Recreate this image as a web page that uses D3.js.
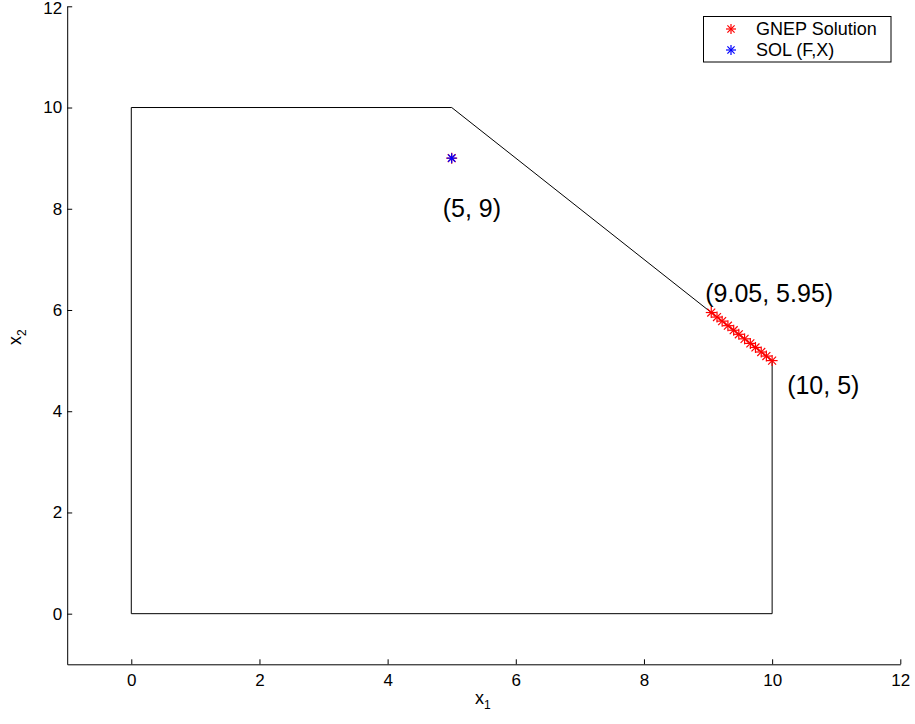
<!DOCTYPE html>
<html>
<head>
<meta charset="utf-8">
<script src="https://cdn.jsdelivr.net/npm/d3@7"></script>
<style>
  body { margin: 0; background: #fff; }
  text { font-family: "Liberation Sans", Arial, sans-serif; }
</style>
</head>
<body>
<div id="chart"></div>
<script>
// data
var regionX = [0, 0, 5, 10, 10, 0];
var regionY = [0, 10, 10, 5, 0, 0];
var gnepX = [9.05, 9.14, 9.22, 9.31, 9.40, 9.48, 9.57, 9.66, 9.74, 9.83, 9.91, 10.0];
var gnepY = [5.95, 5.86, 5.78, 5.69, 5.60, 5.52, 5.43, 5.34, 5.26, 5.17, 5.09, 5.0];
var solX = [5];
var solY = [9];
var gnepFixed = [[5, 9]];
var xTicks = [0, 2, 4, 6, 8, 10, 12];
var yTicks = [0, 2, 4, 6, 8, 10, 12];
var notes = [
  { label: "(5, 9)", x: 5, y: 9, dx: -9, dy: 59 },
  { label: "(9.05, 5.95)", x: 9.05, y: 5.95, dx: -6, dy: -10.5 },
  { label: "(10, 5)", x: 10, y: 5, dx: 15, dy: 33 }
];

var W = 915, H = 724;
var svg = d3.select("#chart").append("svg").attr("width", W).attr("height", H);

var x = d3.scaleLinear().domain([-1, 12]).range([67.2, 900.3]);
var y = d3.scaleLinear().domain([-1, 12]).range([664.3, 6.3]);

// axes, ticks pointing inward
var xAxis = d3.axisBottom(x).tickValues(xTicks).tickSizeInner(-5).tickSizeOuter(0).tickPadding(10);
var yAxis = d3.axisLeft(y).tickValues(yTicks).tickSizeInner(-5).tickSizeOuter(0).tickPadding(5);

var gx = svg.append("g").attr("transform", "translate(0," + y(-1) + ")").call(xAxis);
var gy = svg.append("g").attr("transform", "translate(" + x(-1) + ",0)").call(yAxis);
[gx, gy].forEach(function(g) {
  g.selectAll("path, line").attr("stroke", "#000").attr("stroke-width", 1);
  g.selectAll("text").attr("font-size", 17).attr("fill", "#000")
    .attr("font-family", "Liberation Sans, Arial, sans-serif");
});
// keep the top "12" inside the page
gy.selectAll(".tick text").filter(function(d) { return d === 12; }).attr("dy", "0.4em");

// feasible region
var line = d3.line().x(function(d) { return x(d[0]); }).y(function(d) { return y(d[1]); });
svg.append("path")
  .datum(regionX.map(function(v, i) { return [v, regionY[i]]; }))
  .attr("d", line).attr("fill", "none").attr("stroke", "#000").attr("stroke-width", 1);

// star marker (MATLAB '*')
function star(g, cx, cy, color, r) {
  var s = g.append("g").attr("transform", "translate(" + cx + "," + cy + ")")
    .attr("stroke", color).attr("stroke-width", 1.2);
  s.append("line").attr("x1", -r).attr("x2", r).attr("y1", 0).attr("y2", 0);
  s.append("line").attr("x1", 0).attr("x2", 0).attr("y1", -r).attr("y2", r);
  var d = r * 0.72;
  s.append("line").attr("x1", -d).attr("x2", d).attr("y1", -d).attr("y2", d);
  s.append("line").attr("x1", -d).attr("x2", d).attr("y1", d).attr("y2", -d);
}

var marks = svg.append("g");
gnepFixed.forEach(function(p) { star(marks, x(p[0]), y(p[1]), "#ff0000", 5.5); });
gnepX.forEach(function(v, i) { star(marks, x(v), y(gnepY[i]), "#ff0000", 5.5); });
solX.forEach(function(v, i) { star(marks, x(v), y(solY[i]), "#0000ff", 5); });

// annotations
notes.forEach(function(n) {
  svg.append("text").attr("x", x(n.x) + n.dx).attr("y", y(n.y) + n.dy)
    .attr("font-size", 25).attr("fill", "#000").text(n.label);
});

// axis labels
var xl = svg.append("text").attr("x", 475).attr("y", 704).attr("font-size", 18).attr("fill", "#000");
xl.append("tspan").text("x");
xl.append("tspan").attr("font-size", 12).attr("dy", 5).text("1");
var yl = svg.append("text").attr("transform", "translate(21,345) rotate(-90)").attr("font-size", 18).attr("fill", "#000");
yl.append("tspan").text("x");
yl.append("tspan").attr("font-size", 12).attr("dy", 5).text("2");

// legend
var leg = svg.append("g");
leg.append("rect").attr("x", 703.5).attr("y", 16.5).attr("width", 187.5).attr("height", 45.5)
  .attr("fill", "#fff").attr("stroke", "#000").attr("stroke-width", 1);
var legItems = [["GNEP Solution", "#ff0000"], ["SOL (F,X)", "#0000ff"]];
legItems.forEach(function(it, i) {
  var ly = 29 + i * 21;
  star(leg, 731, ly, it[1], 5);
  leg.append("text").attr("x", 756).attr("y", ly + 6).attr("font-size", 18).attr("fill", "#000").text(it[0]);
});
</script>
</body>
</html>
